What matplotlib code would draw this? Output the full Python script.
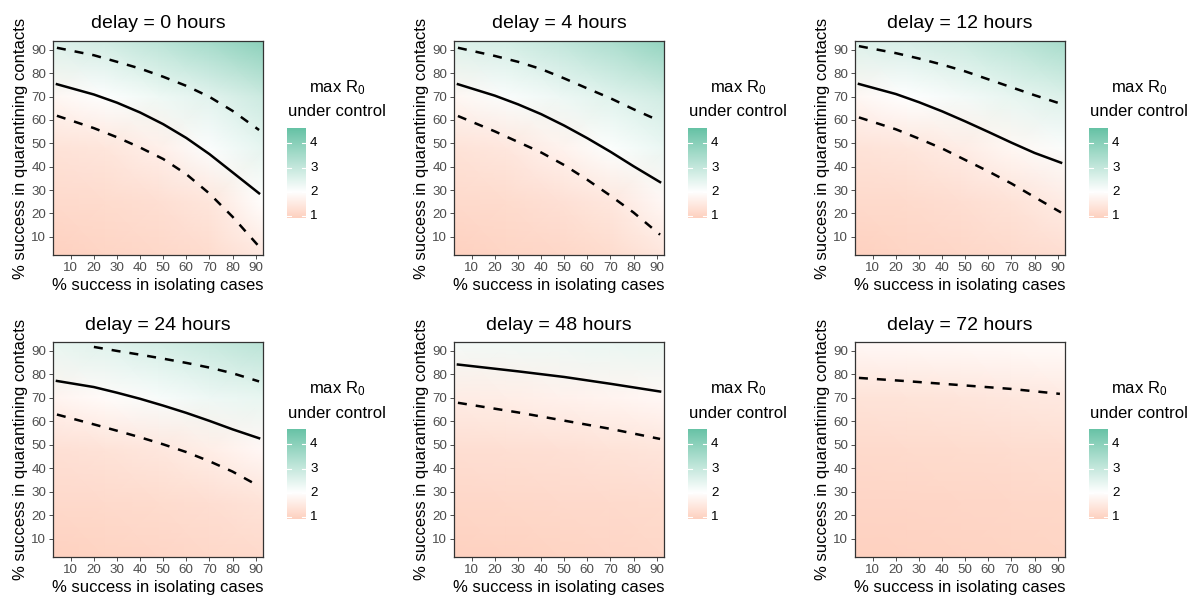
import numpy as np
import matplotlib
matplotlib.use('Agg')
from matplotlib import pyplot as plt
from matplotlib.colors import LinearSegmentedColormap, Normalize

plt.rcParams['font.family'] = ['Liberation Sans', 'DejaVu Sans']
plt.rcParams['mathtext.default'] = 'regular'

# Delay panels
delays = [0, 4, 12, 24, 48, 72]

# Coarse grid of max R0 (rows: quarantine %, cols: isolation %)
grid_x = [2, 25, 48, 70, 94]
grid_y = [2, 25, 48, 70, 94]

r0_0h = [[0.95, 1.02, 1.10, 1.20, 1.50],
         [1.15, 1.20, 1.28, 1.42, 1.98],
         [1.35, 1.42, 1.64, 2.07, 2.45],
         [1.80, 2.04, 2.28, 2.50, 2.90],
         [2.60, 2.80, 3.15, 3.55, 4.00]]
r0_4h = [[0.95, 1.02, 1.08, 1.20, 1.45],
         [1.15, 1.20, 1.30, 1.45, 1.85],
         [1.35, 1.45, 1.70, 2.05, 2.35],
         [1.80, 2.10, 2.30, 2.52, 2.80],
         [2.60, 2.75, 3.05, 3.40, 3.85]]
r0_12h = [[0.95, 1.02, 1.08, 1.15, 1.25],
          [1.15, 1.18, 1.25, 1.35, 1.55],
          [1.35, 1.42, 1.55, 1.80, 2.10],
          [1.80, 2.02, 2.20, 2.40, 2.60],
          [2.60, 2.70, 2.90, 3.15, 3.50]]
r0_24h = [[0.95, 1.00, 1.05, 1.10, 1.15],
          [1.12, 1.15, 1.20, 1.25, 1.35],
          [1.30, 1.35, 1.45, 1.60, 1.85],
          [1.75, 1.90, 2.12, 2.30, 2.40],
          [2.40, 2.55, 2.75, 2.95, 3.20]]
r0_48h = [[0.95, 0.97, 1.00, 1.04, 1.08],
          [1.08, 1.10, 1.12, 1.15, 1.20],
          [1.25, 1.28, 1.30, 1.35, 1.42],
          [1.55, 1.60, 1.68, 1.75, 1.85],
          [2.20, 2.25, 2.30, 2.35, 2.40]]
r0_72h = [[0.95, 0.96, 0.98, 1.00, 1.03],
          [1.05, 1.05, 1.06, 1.08, 1.10],
          [1.15, 1.17, 1.20, 1.22, 1.25],
          [1.35, 1.38, 1.40, 1.45, 1.50],
          [1.85, 1.87, 1.88, 1.90, 1.92]]
r0_grids = [r0_0h, r0_4h, r0_12h, r0_24h, r0_48h, r0_72h]

# range of the fill scale (colour bar)
r0_min = 0.93
r0_max = 4.62
r0_mid = 2.0

# Contour lines (x = % isolating, y = % quarantining)
lx = [4, 20, 30, 40, 50, 60, 70, 80, 91.5]
up_0h = [90.9, 87.7, 84.9, 82.0, 78.5, 74.6, 69.9, 63.9, 55.7]
mid_0h = [75.3, 70.9, 67.4, 63.2, 58.2, 52.3, 45.4, 37.6, 28.6]
low_0h = [61.8, 56.5, 52.6, 48.2, 43.3, 36.8, 28.5, 18.6, 5.8]

up_4h = [90.9, 87.4, 84.9, 81.8, 77.8, 73.5, 69.3, 64.6, 59.5]
mid_4h = [75.3, 70.4, 66.7, 62.5, 57.6, 52.2, 46.4, 40.2, 33.4]
low_4h = [61.7, 55.1, 50.6, 46.1, 40.7, 34.4, 27.6, 20.4, 10.9]

up_12h = [91.6, 88.6, 86.3, 83.7, 80.8, 77.4, 74.0, 70.6, 66.9]
mid_12h = [75.4, 71.1, 67.6, 63.7, 59.4, 54.9, 50.3, 45.9, 41.7]
low_12h = [61.1, 56.0, 52.0, 47.8, 42.9, 38.0, 32.8, 27.0, 20.4]

lx_up_24h = [20, 30, 40, 50, 60, 70, 80, 91.5]
up_24h = [91.7, 90.0, 88.4, 86.7, 84.9, 82.9, 80.5, 77.0]
mid_24h = [77.2, 74.6, 72.2, 69.6, 66.7, 63.6, 60.2, 56.6, 52.8]
lx_low_24h = [4, 20, 30, 40, 50, 60, 70, 80, 88.5]
low_24h = [62.9, 58.7, 56.0, 53.2, 50.2, 46.9, 43.0, 38.6, 34.0]

lx_48h = [4, 30, 50, 70, 91.5]
mid_48h = [84.2, 81.3, 78.9, 76.0, 72.7]
low_48h = [67.9, 63.8, 60.3, 56.8, 52.5]

lx_72h = [4, 25, 47, 70, 91]
low_72h = [78.5, 77.1, 75.5, 73.8, 71.7]

panel_lines = [
    [(lx, up_0h, '--'), (lx, mid_0h, '-'), (lx, low_0h, '--')],
    [(lx, up_4h, '--'), (lx, mid_4h, '-'), (lx, low_4h, '--')],
    [(lx, up_12h, '--'), (lx, mid_12h, '-'), (lx, low_12h, '--')],
    [(lx_up_24h, up_24h, '--'), (lx, mid_24h, '-'), (lx_low_24h, low_24h, '--')],
    [(lx_48h, mid_48h, '-'), (lx_48h, low_48h, '--')],
    [(lx_72h, low_72h, '--')],
]

ticks = [10, 20, 30, 40, 50, 60, 70, 80, 90]
cb_ticks = [1, 2, 3, 4]

# gradient2-like colour scale: low -> white (at mid) -> high
cmap = LinearSegmentedColormap.from_list('r0', ['#FC8D62', '#FFFFFF', '#66C2A5'])
half = max(r0_max - r0_mid, r0_mid - r0_min)
norm = Normalize(vmin=r0_mid - half, vmax=r0_mid + half)

W, H = 1190, 598
fig = plt.figure(figsize=(W / 100, H / 100), dpi=100)

def px_axes(x0, y0, x1, y1):
    return fig.add_axes([x0 / W, 1 - y1 / H, (x1 - x0) / W, (y1 - y0) / H])

col_x = [53, 454, 855]
row_y = [(41, 255), (342, 557)]
dark = '#333333'

for i, delay in enumerate(delays):
    r, c = divmod(i, 3)
    top, bot = row_y[r]
    left = col_x[c]
    ax = px_axes(left, top, left + 210, bot)
    ax.pcolormesh(grid_x, grid_y, np.array(r0_grids[i]), shading='gouraud',
                  cmap=cmap, norm=norm, rasterized=True)
    for xs, ys, ls in panel_lines[i]:
        if ls == '--':
            ax.plot(xs, ys, color='black', lw=1.8, linestyle=(0, (3.6, 3.6)))
        else:
            ax.plot(xs, ys, color='black', lw=1.8)
    ax.set_xlim(2.3, 93.2)
    ax.set_ylim(2.2, 93.8)
    ax.set_xticks(ticks)
    ax.set_yticks(ticks)
    ax.tick_params(length=3, width=0.6, color=dark, labelsize=9.6,
                   labelcolor='#4D4D4D', pad=2)
    for s in ax.spines.values():
        s.set_color(dark)
        s.set_linewidth(0.9)
    ax.set_title(f'delay = {delay} hours', fontsize=14, pad=9)
    ax.set_xlabel('% success in isolating cases', fontsize=12, labelpad=3)
    ax.set_ylabel('% success in quarantining contacts', fontsize=12, labelpad=2)

    # colour bar legend
    cb_left = left + 234
    cb_top = top + 87
    cax = px_axes(cb_left, cb_top, cb_left + 19, cb_top + 90)
    grad = np.linspace(r0_min, r0_max, 256)
    cax.imshow(grad[:, None], aspect='auto', origin='lower',
               extent=[0, 1, r0_min, r0_max], cmap=cmap, norm=norm)
    cax.set_xlim(0, 1)
    cax.set_ylim(r0_min, r0_max)
    cax.axis('off')
    for v in cb_ticks:
        cax.plot([0, 0.2], [v, v], color='white', lw=0.8)
        cax.plot([0.8, 1], [v, v], color='white', lw=0.8)
        cax.text(1.22, v, str(v), fontsize=9.6, va='center', ha='left', clip_on=False)
    cx = (cb_left + 50) / W
    fig.text(cx, 1 - (top + 47) / H, 'max R$_0$', fontsize=12, ha='center', va='center')
    fig.text(cx, 1 - (top + 71) / H, 'under control', fontsize=12, ha='center', va='center')

fig.savefig('out.png', dpi=100)
